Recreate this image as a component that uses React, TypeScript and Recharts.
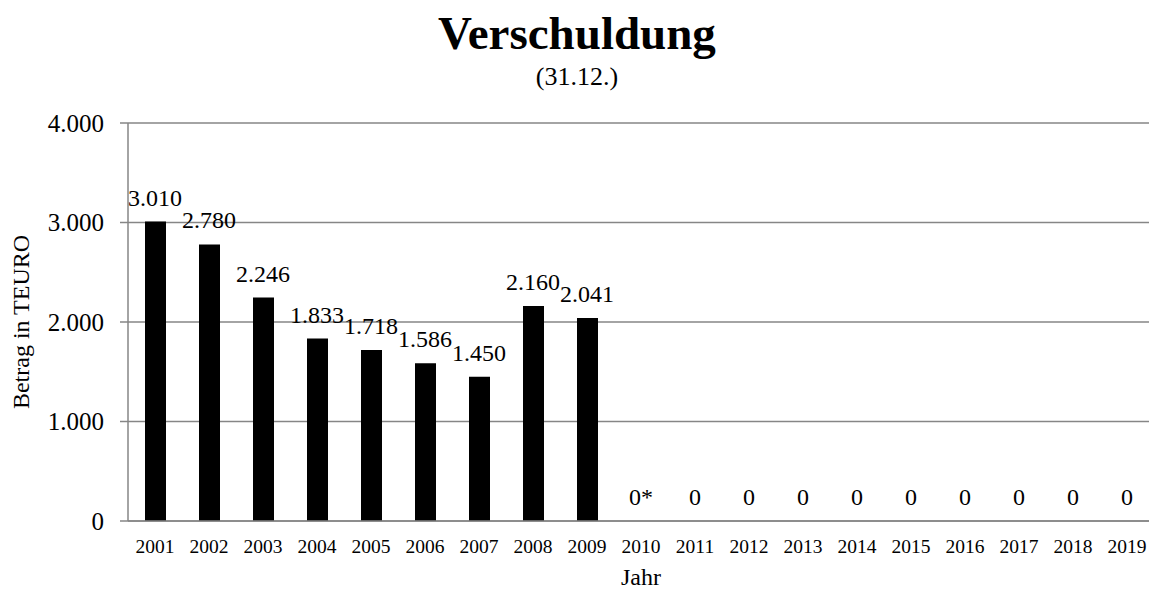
import React from 'react';
import { ComposedChart, Bar, Line, XAxis, YAxis, CartesianGrid, LabelList } from 'recharts';

const years = ['2001', '2002', '2003', '2004', '2005', '2006', '2007', '2008', '2009', '2010',
    '2011', '2012', '2013', '2014', '2015', '2016', '2017', '2018', '2019'];
const debt = [3010, 2780, 2246, 1833, 1718, 1586, 1450, 2160, 2041, 0, 0, 0, 0, 0, 0, 0, 0, 0, 0];
const labels = ['3.010', '2.780', '2.246', '1.833', '1.718', '1.586', '1.450', '2.160', '2.041', '0*',
    '0', '0', '0', '0', '0', '0', '0', '0', '0'];
const yTicks = [0, 1000, 2000, 3000, 4000];

const data = years.map((year, i) => ({ year, debt: debt[i], label: labels[i] }));

const FONT = "'Liberation Serif', 'Times New Roman', serif";
const GRAY = '#868686';

// German thousands separator: 4000 -> 4.000
const fmt = (v: number) => (v === 0 ? '0' : v.toLocaleString('de-DE'));

export default function App() {
    return (
        <div style={{ position: 'fixed', left: 0, top: 0, width: 1149, height: 591, overflow: 'hidden', background: '#fff', fontFamily: FONT }}>
            <style>{`.recharts-wrapper text, .recharts-text { font-family: ${FONT} !important; }`}</style>
            <svg width={1149} height={110} style={{ position: 'absolute', left: 0, top: 0 }}>
                <text x={577} y={49} textAnchor="middle" fontFamily={FONT} fontWeight="bold" fontSize={47} fill="#000">
                    Verschuldung
                </text>
                <text x={577} y={85} textAnchor="middle" fontFamily={FONT} fontSize={26} fill="#000">
                    (31.12.)
                </text>
            </svg>
            <div style={{ position: 'absolute', left: 0, top: 0 }}>
                <ComposedChart width={1154} height={591} data={data} margin={{ top: 123, right: 0, bottom: 0, left: 0 }}>
                    <CartesianGrid vertical={false} stroke={GRAY} strokeWidth={1.5} />
                    <XAxis
                        dataKey="year"
                        interval={0}
                        height={70}
                        tickLine={false}
                        tickMargin={12}
                        axisLine={{ stroke: GRAY, strokeWidth: 1.5 }}
                        tick={{ fill: '#000', fontSize: 19.5 }}
                        label={{ value: 'Jahr', position: 'insideBottom', offset: 6, fill: '#000', fontSize: 24 }}
                    />
                    <YAxis
                        width={128}
                        domain={[0, 4000]}
                        ticks={yTicks}
                        tickFormatter={fmt}
                        tickSize={8}
                        tickMargin={16}
                        tickLine={{ stroke: GRAY, strokeWidth: 1.5 }}
                        axisLine={{ stroke: GRAY, strokeWidth: 1.5 }}
                        tick={{ fill: '#000', fontSize: 25 }}
                        label={{ value: 'Betrag in TEURO', angle: -90, position: 'insideLeft', offset: 20, fill: '#000', fontSize: 24, style: { textAnchor: 'middle' } }}
                    />
                    <Bar dataKey="debt" fill="#000" barSize={21} isAnimationActive={false} />
                    {/* invisible line carries the value labels, so zero years get one too */}
                    <Line dataKey="debt" stroke="none" dot={false} activeDot={false} isAnimationActive={false}>
                        <LabelList dataKey="label" position="top" offset={16} fill="#000" fontSize={24} />
                    </Line>
                </ComposedChart>
            </div>
        </div>
    );
}
